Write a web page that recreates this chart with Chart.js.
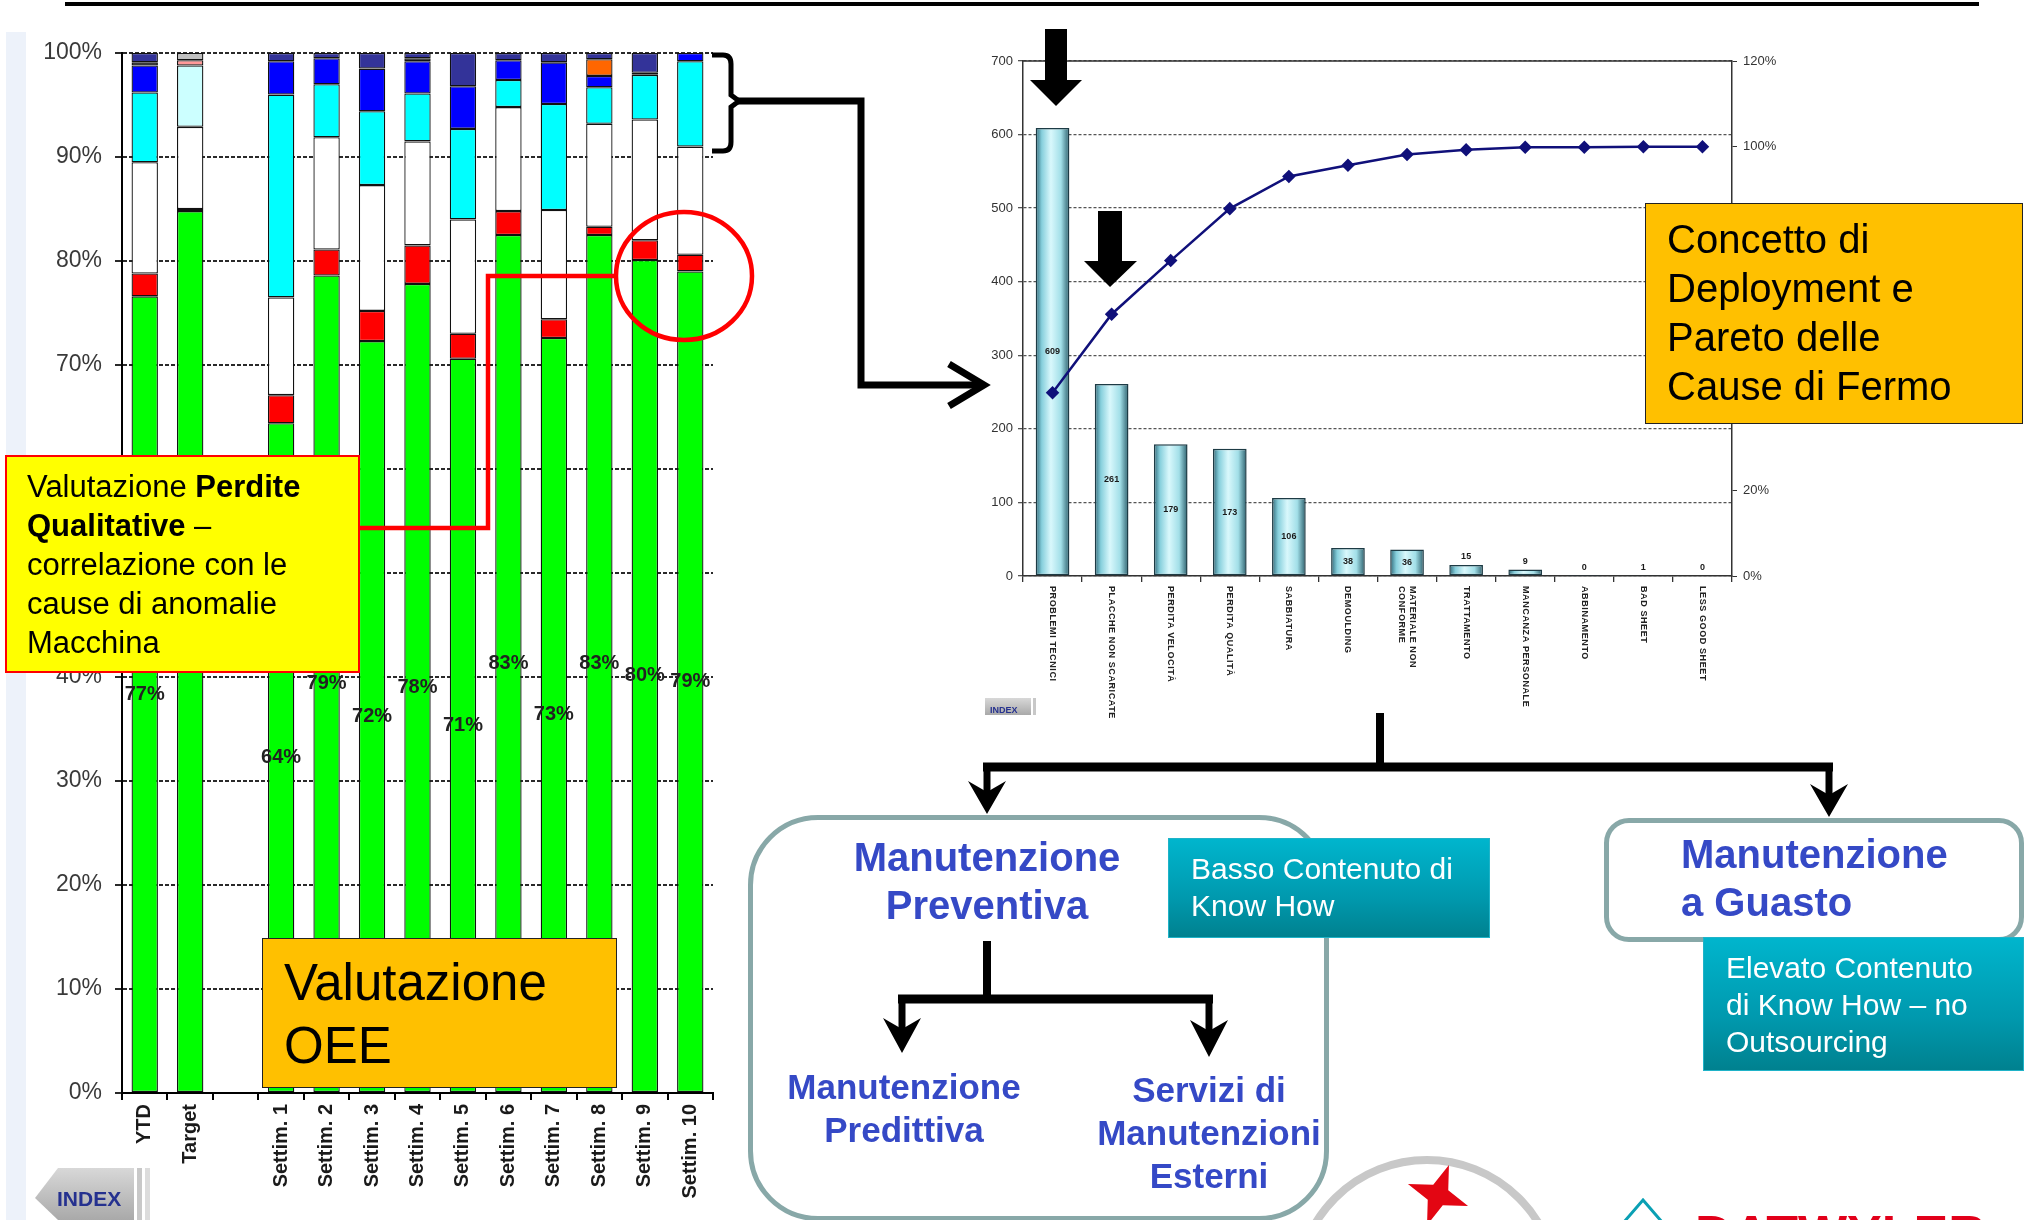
<!DOCTYPE html>
<html lang="it">
<head>
<meta charset="utf-8">
<title>Valutazione OEE e Pareto delle cause di fermo</title>
<script src="https://cdn.jsdelivr.net/npm/chart.js@4.4.1/dist/chart.umd.min.js"></script>
<style>
  html, body { margin: 0; padding: 0; background: #fff; }
  body { position: relative; width: 2031px; height: 1220px; overflow: hidden; font-family: 'Liberation Sans', Arial, sans-serif; }
  .abs { position: absolute; white-space: nowrap; }
  .box { position: absolute; box-sizing: border-box; }
  .blu { color: #3549c6; font-weight: bold; }
  .teal { background: linear-gradient(#00b5cd, #0099ae 60%, #00818f); border: 1px solid #1fb3c8; }
  .bianco { color: #fff; font-size: 30px; line-height: 37px; }
</style>
</head>
<body>

<div class="box" style="left:6px;top:32px;width:20px;height:1188px;background:#edf2fa"></div>

<div class="abs" style="left:0;top:0;width:740px;height:1220px"><canvas id="oeeChart"></canvas></div>
<div class="abs" style="left:940px;top:20px;width:840px;height:720px"><canvas id="paretoChart"></canvas></div>

<svg class="abs" width="2031" height="1220" style="left:0;top:0">
  <line x1="65" y1="4" x2="1979" y2="4" stroke="#000" stroke-width="4"/>
  <!-- graffa e freccia verso il pareto -->
  <path d="M712,55 L723,55 Q731,55 731,64 L731,95 L739,101 L731,107 L731,142 Q731,151 723,151 L712,151" fill="none" stroke="#000" stroke-width="5"/>
  <polyline points="736,101 861,101 861,385 980,385" fill="none" stroke="#000" stroke-width="7"/>
  <polyline points="949,364 984,385 949,406" fill="none" stroke="#000" stroke-width="7"/>
  <!-- collegamento rosso -->
  <polyline points="360,528 488,528 488,276 616,276" fill="none" stroke="#ff0000" stroke-width="4.5"/>
  <ellipse cx="684" cy="276" rx="68" ry="64" fill="none" stroke="#ff0000" stroke-width="4.5"/>
  <!-- frecce sul pareto -->
  <polygon points="1045,29 1067,29 1067,80 1082,80 1056,106 1030,80 1045,80" fill="#000"/>
  <polygon points="1098,211 1122,211 1122,261 1137,261 1110,287 1084,261 1098,261" fill="#000"/>
  <!-- albero manutenzione -->
  <line x1="1380" y1="713" x2="1380" y2="771" stroke="#000" stroke-width="8"/>
  <line x1="983" y1="767" x2="1833" y2="767" stroke="#000" stroke-width="9"/>
  <line x1="987" y1="767" x2="987" y2="800" stroke="#000" stroke-width="7"/>
  <polygon points="968,781 987,814 1006,781 987,792" fill="#000"/>
  <line x1="1829" y1="767" x2="1829" y2="802" stroke="#000" stroke-width="7"/>
  <polygon points="1810,784 1829,817 1848,784 1829,795" fill="#000"/>
  <line x1="987" y1="941" x2="987" y2="1003" stroke="#000" stroke-width="8"/>
  <line x1="898" y1="999" x2="1213" y2="999" stroke="#000" stroke-width="9"/>
  <line x1="902" y1="999" x2="902" y2="1032" stroke="#000" stroke-width="7"/>
  <polygon points="883,1018 902,1053 921,1018 902,1029" fill="#000"/>
  <line x1="1209" y1="999" x2="1209" y2="1034" stroke="#000" stroke-width="7"/>
  <polygon points="1190,1020 1209,1057 1228,1020 1209,1031" fill="#000"/>
  <!-- pulsante INDEX -->
  <defs>
    <linearGradient id="grigio" x1="0" y1="0" x2="0" y2="1">
      <stop offset="0" stop-color="#d8d8d8"/><stop offset="1" stop-color="#a9a9a9"/>
    </linearGradient>
  </defs>
  <polygon points="35,1198 58,1168 134,1168 134,1220 58,1220" fill="url(#grigio)"/>
  <rect x="137" y="1168" width="5" height="52" fill="#c8c8c8"/>
  <rect x="145" y="1168" width="5" height="52" fill="#dcdcdc"/>
  <text x="57" y="1206" font-family="Liberation Sans, Arial" font-weight="bold" font-size="21" fill="#25318f">INDEX</text>
  <rect x="985" y="698" width="46" height="17" fill="url(#grigio)"/>
  <rect x="1033" y="698" width="3" height="17" fill="#c8c8c8"/>
  <text x="990" y="713" font-family="Liberation Sans, Arial" font-weight="bold" font-size="9" fill="#25318f">INDEX</text>
  <!-- loghi in basso -->
  <circle cx="1427" cy="1290" r="130" fill="none" stroke="#c8c8c8" stroke-width="8"/>
  <polygon points="0,-32 8,-8 32,0 8,8 0,32 -8,8 -32,0 -8,-8" fill="#e30613" transform="translate(1438,1195) rotate(20)"/>
  <polygon points="1643,1200 1662,1222 1624,1222" fill="none" stroke="#0aa0b4" stroke-width="3"/>
  <text x="1695" y="1252" font-family="Liberation Sans, Arial" font-weight="bold" font-size="52" fill="#e2001a">DATWYLER</text>
</svg>

<!-- riquadri di commento -->
<div class="box" style="left:5px;top:455px;width:355px;height:218px;background:#ffff00;border:2.5px solid #ff0000"></div>
<div class="abs" style="left:27px;top:467px;font-size:31px;line-height:39px;color:#000">Valutazione <b>Perdite</b><br><b>Qualitative</b> –<br>correlazione con le<br>cause di anomalie<br>Macchina</div>

<div class="box" style="left:262px;top:938px;width:355px;height:150px;background:#ffc000;border:1.5px solid #222"></div>
<div class="abs" style="left:284px;top:951px;font-size:51px;line-height:63px;color:#000">Valutazione<br>OEE</div>

<div class="box" style="left:1645px;top:203px;width:378px;height:221px;background:#ffc000;border:1.5px solid #222"></div>
<div class="abs" style="left:1667px;top:215px;font-size:40px;line-height:49px;color:#000">Concetto di<br>Deployment e<br>Pareto delle<br>Cause di Fermo</div>

<div class="box" style="left:748px;top:815px;width:581px;height:406px;border:5px solid #88a8a8;border-radius:70px"></div>
<div class="abs blu" style="left:787px;width:400px;top:833px;font-size:40px;line-height:48px;text-align:center">Manutenzione<br>Preventiva</div>
<div class="abs blu" style="left:754px;width:300px;top:1065px;font-size:35px;line-height:43px;text-align:center">Manutenzione<br>Predittiva</div>
<div class="abs blu" style="left:1059px;width:300px;top:1068px;font-size:35px;line-height:43px;text-align:center">Servizi di<br>Manutenzioni<br>Esterni</div>

<div class="box teal" style="left:1168px;top:838px;width:322px;height:100px"></div>
<div class="abs bianco" style="left:1191px;top:850px">Basso Contenuto di<br>Know How</div>

<div class="box" style="left:1604px;top:818px;width:420px;height:124px;border:5px solid #88a8a8;border-radius:25px"></div>
<div class="abs blu" style="left:1681px;top:830px;font-size:40px;line-height:48px">Manutenzione<br>a Guasto</div>

<div class="box teal" style="left:1703px;top:937px;width:321px;height:134px"></div>
<div class="abs bianco" style="left:1726px;top:949px">Elevato Contenuto<br>di Know How – no<br>Outsourcing</div>

<script>
Chart.defaults.font.family = "'Liberation Sans', Arial, sans-serif";
Chart.defaults.animation = false;

// OEE settimanale (quote % dal basso verso l'alto)
var categorieOee = ['YTD', 'Target', '', 'Settim. 1', 'Settim. 2', 'Settim. 3', 'Settim. 4', 'Settim. 5',
                    'Settim. 6', 'Settim. 7', 'Settim. 8', 'Settim. 9', 'Settim. 10'];
var oee            = [76.6, 84.8, null, 64.4, 78.6, 72.3, 77.8, 70.6, 82.5, 72.6, 82.5, 80.1, 79.0];
var perditeQualita = [2.2, 0.2, null, 2.7, 2.5, 2.9, 3.7, 2.4, 2.3, 1.8, 0.8, 1.9, 1.6];
var perditeVelocita= [10.7, 7.9, null, 9.4, 10.8, 12.1, 10.0, 11.0, 10.0, 10.5, 9.9, 11.6, 10.4];
var fermiTecnici   = [6.7, 5.9, null, 19.5, 5.1, 7.1, 4.6, 8.7, 2.6, 10.2, 3.5, 4.3, 8.2];
var cambioFormato  = [2.6, null, null, 3.2, 2.5, 4.1, 3.1, 4.1, 1.9, 4.0, 1.1, null, 0.8];
var mancanzaMat    = [0.3, null, null, null, null, null, 0.3, null, null, null, null, 0.2, null];
var altreCause     = [null, 0.5, null, null, null, null, null, null, null, null, 1.6, null, null];
var fermiProgr     = [0.9, 0.7, null, 0.8, 0.5, 1.5, 0.5, 3.2, 0.7, 0.9, 0.6, 1.9, null];

// Pareto delle cause di fermo
var causeFermo = ['PROBLEMI TECNICI', 'PLACCHE NON SCARICATE', 'PERDITA VELOCITÀ', 'PERDITA QUALITÀ',
                  'SABBIATURA', 'DEMOULDING', 'MATERIALE NON|CONFORME', 'TRATTAMENTO',
                  'MANCANZA PERSONALE', 'ABBINAMENTO', 'BAD SHEET', 'LESS GOOD SHEET'];
var minutiFermo = [609, 261, 179, 173, 106, 38, 36, 15, 9, 0.4, 0.6, 0];
var cumulataPct = [42.7, 61.0, 73.5, 85.6, 93.1, 95.7, 98.2, 99.3, 99.9, 99.9, 100, 100];

function colori(base, eccezioni) {
    return categorieOee.map(function (c, i) { return eccezioni[i] || base; });
}

function strato(label, dati, colore) {
    return {
        label: label,
        data: dati,
        backgroundColor: colore,
        borderColor: '#111',
        borderWidth: 1.3,
        borderSkipped: false
    };
}

var etichetteOee = {
    id: 'etichetteOee',
    afterDatasetsDraw: function (chart) {
        var ctx = chart.ctx;
        ctx.save();
        ctx.font = "bold 20px 'Liberation Sans', Arial, sans-serif";
        ctx.fillStyle = '#222';
        ctx.textAlign = 'center';
        ctx.textBaseline = 'middle';
        chart.getDatasetMeta(0).data.forEach(function (bar, i) {
            if (oee[i] == null) return;
            ctx.fillText(Math.round(oee[i]) + '%', bar.x, (bar.y + bar.base) / 2);
        });
        ctx.restore();
    }
};

new Chart(document.getElementById('oeeChart'), {
    type: 'bar',
    data: {
        labels: categorieOee,
        datasets: [
            strato('OEE', oee, '#00ff00'),
            strato('Perdite qualità', perditeQualita, '#ff0000'),
            strato('Perdite velocità', perditeVelocita, '#ffffff'),
            strato('Fermi tecnici', fermiTecnici, colori('#00ffff', {1: '#ccffff'})),
            strato('Cambio formato', cambioFormato, '#0000ff'),
            strato('Mancanza materiale', mancanzaMat, '#000000'),
            strato('Altre cause', altreCause, colori('#ff6600', {1: '#ff9999'})),
            strato('Fermi programmati', fermiProgr, colori('#333399', {1: '#c0c0c0'}))
        ]
    },
    options: {
        responsive: true,
        maintainAspectRatio: false,
        layout: { padding: { left: 0, right: 27, top: 53, bottom: 0 } },
        datasets: { bar: { barPercentage: 0.58, categoryPercentage: 1 } },
        plugins: { legend: { display: false }, tooltip: { enabled: false } },
        scales: {
            x: {
                stacked: true,
                grid: { drawOnChartArea: false, tickLength: 7, color: '#000', lineWidth: 2 },
                border: { color: '#000', width: 2 },
                ticks: {
                    autoSkip: false, minRotation: 90, maxRotation: 90, padding: 4,
                    color: '#1a1a1a', font: { size: 20, weight: 'bold' }
                },
                afterFit: function (s) { s.height = 127; }
            },
            y: {
                stacked: true,
                min: 0,
                max: 100,
                ticks: {
                    stepSize: 10, padding: 13, color: '#3a3a3a', font: { size: 23 },
                    callback: function (v) { return v + '%'; }
                },
                grid: { color: '#2a2a2a', lineWidth: 2, tickLength: 7 },
                border: { color: '#000', width: 2, dash: [4, 2] },
                afterFit: function (s) { s.width = 122; }
            }
        }
    },
    plugins: [etichetteOee]
});

var paretoExtra = {
    id: 'paretoExtra',
    afterDraw: function (chart) {
        var ctx = chart.ctx, area = chart.chartArea, xs = chart.scales.x;
        ctx.save();
        // bordo superiore continuo a quota 700
        ctx.strokeStyle = '#333';
        ctx.lineWidth = 1.5;
        ctx.beginPath();
        ctx.moveTo(area.left, area.top);
        ctx.lineTo(area.right, area.top);
        ctx.stroke();

        // valori delle barre
        ctx.font = "bold 9px 'Liberation Sans', Arial, sans-serif";
        ctx.fillStyle = '#1a1a1a';
        ctx.textAlign = 'center';
        ctx.textBaseline = 'middle';
        chart.getDatasetMeta(1).data.forEach(function (bar, i) {
            var h = bar.base - bar.y;
            var y = h > 16 ? (bar.y + bar.base) / 2 : bar.y - 8;
            ctx.fillText(String(Math.round(minutiFermo[i])), bar.x, y);
        });

        // categorie scritte dall'alto verso il basso
        ctx.font = "bold 9px 'Liberation Sans', Arial, sans-serif";
        ctx.fillStyle = '#222';
        ctx.textAlign = 'left';
        if ('letterSpacing' in ctx) ctx.letterSpacing = '0.6px';
        causeFermo.forEach(function (nome, i) {
            var righe = nome.split('|');
            ctx.save();
            ctx.translate(xs.getPixelForValue(i), area.bottom + 10);
            ctx.rotate(Math.PI / 2);
            righe.forEach(function (r, j) {
                ctx.fillText(r, 0, (j - (righe.length - 1) / 2) * 11);
            });
            ctx.restore();
        });
        ctx.restore();
    }
};

new Chart(document.getElementById('paretoChart'), {
    type: 'bar',
    data: {
        labels: causeFermo,
        datasets: [{
            type: 'line',
            label: 'Cumulata %',
            data: cumulataPct,
            yAxisID: 'y1',
            borderColor: '#10107a',
            borderWidth: 2.5,
            pointStyle: 'rectRot',
            pointRadius: 5,
            pointBackgroundColor: '#10107a',
            pointBorderColor: '#10107a',
            tension: 0
        }, {
            label: 'Minuti di fermo',
            data: minutiFermo,
            yAxisID: 'y',
            barPercentage: 0.57,
            categoryPercentage: 1,
            borderColor: '#1d3b45',
            borderWidth: 1.5,
            borderSkipped: false,
            backgroundColor: function (c) {
                var chart = c.chart, xs = chart.scales.x;
                if (!chart.chartArea || !xs || c.dataIndex === undefined) return '#bfeff5';
                var cx = xs.getPixelForValue(c.dataIndex);
                var half = xs.width / causeFermo.length * 0.57 / 2;
                var g = chart.ctx.createLinearGradient(cx - half, 0, cx + half, 0);
                g.addColorStop(0, '#2f6878');
                g.addColorStop(0.18, '#86cfdc');
                g.addColorStop(0.45, '#d9f8fc');
                g.addColorStop(0.75, '#a2dfe8');
                g.addColorStop(1, '#2c5f6c');
                return g;
            }
        }]
    },
    options: {
        responsive: true,
        maintainAspectRatio: false,
        layout: { padding: { left: 0, right: 0, top: 41, bottom: 0 } },
        plugins: { legend: { display: false }, tooltip: { enabled: false } },
        scales: {
            x: {
                grid: { drawOnChartArea: false, tickLength: 6, color: '#333', lineWidth: 1.3 },
                border: { color: '#333', width: 1.5 },
                ticks: { display: false },
                afterFit: function (s) { s.height = 164; }
            },
            y: {
                min: 0,
                max: 700,
                ticks: { stepSize: 100, padding: 5, color: '#333', font: { size: 13 } },
                grid: { color: '#555', lineWidth: 1.3, tickLength: 5 },
                border: { color: '#333', width: 1.5, dash: [3, 2] },
                afterFit: function (s) { s.width = 83; }
            },
            y1: {
                position: 'right',
                min: 0,
                max: 120,
                ticks: {
                    stepSize: 20, padding: 6, color: '#333', font: { size: 13 },
                    callback: function (v) { return v + '%'; }
                },
                grid: { drawOnChartArea: false, tickLength: 5, color: '#333' },
                border: { color: '#333', width: 1.5 },
                afterFit: function (s) { s.width = 48; }
            }
        }
    },
    plugins: [paretoExtra]
});
</script>
</body>
</html>
